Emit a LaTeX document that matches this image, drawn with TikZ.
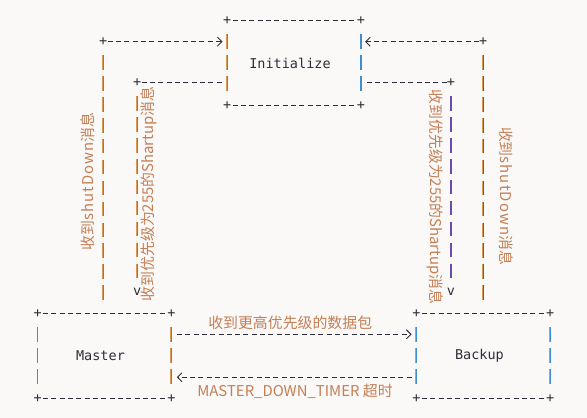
\documentclass[tikz,border=0pt]{standalone}
\usepackage{fontspec}
\usetikzlibrary{arrows.meta}
\newfontfamily\monofont{DejaVu Sans Mono}
\newfontfamily\cjkfont{Noto Sans CJK SC}
\definecolor{labelc}{HTML}{C47F55}
\definecolor{inkc}{HTML}{2E2E3A}
\definecolor{pipeo}{HTML}{D99A55}
\definecolor{pipeb}{HTML}{3C8FD2}
\definecolor{pipep}{HTML}{6A4CB0}
\definecolor{bgc}{HTML}{FAF9F8}
% a column of "|" below anchor #2, #3 rows long, in colour #1 with an orange fringe
\newcommand{\drawpipe}[3]{%
	\foreach \k in {1,...,#3} {
		\draw[pipeo, line width=0.5pt] ([xshift=-0.9pt, yshift=-13.7pt-(\k-1)*20.9pt]#2) -- ++(0,-14.5);
		\draw[#1, line width=1.3pt] ([xshift=0.1pt, yshift=-13.7pt-(\k-1)*20.9pt]#2) -- ++(0,-14.5);
	}}

\begin{document}
\begin{tikzpicture}[x=1pt, y=1pt,
	hdash/.style={inkc, line width=0.9pt, dash pattern=on 5pt off 3.33pt},
	plus/.style={inkc, inner sep=0pt, font=\monofont\fontsize{13.5}{14}\selectfont},
	tip/.style={-{Straight Barb[length=4.5pt, width=9pt]}},
	box/.style={minimum width=133.3pt, minimum height=84pt, inner sep=0pt,
		text=inkc, font=\monofont\fontsize{13.5}{14}\selectfont},
	lbl/.style={labelc, inner sep=0pt, font=\cjkfont\fontsize{14.9}{15}\selectfont}]

	\fill[bgc] (0,0) rectangle (587,418);
	\useasboundingbox (0,0) rectangle (587,418);

	% the three states
	\node[box] (init) at (294, 355) {Initialize\hspace*{8pt}};
	\node[box] (master) at (104.5, 62) {Master\hspace*{8pt}};
	\node[box] (backup) at (483.4, 62) {Backup\hspace*{8pt}};

	\foreach \b in {init, master, backup} {
		\node[plus] at (\b.north west) {+};
		\node[plus] at (\b.north east) {+};
		\node[plus] at (\b.south west) {+};
		\node[plus] at (\b.south east) {+};
		\draw[hdash] ([xshift=5.5pt]\b.north west) -- ([xshift=-5pt]\b.north east);
		\draw[hdash] ([xshift=5.5pt]\b.south west) -- ([xshift=-5pt]\b.south east);
		\drawpipe{pipeb}{\b.north west}{3}
		\drawpipe{pipeb}{\b.north east}{3}
	}

	% corners of the four side paths
	\node[plus] (pl1) at (103.3, 376.3) {+};
	\node[plus] (pl2) at (137.3, 335.3) {+};
	\node[plus] (pr1) at (483.3, 376.3) {+};
	\node[plus] (pr2) at (451, 335.3) {+};
	\node[plus] (vl) at (137.3, 126) {v};
	\node[plus] (vr) at (451, 126) {v};

	\draw[hdash, tip] (pl1.east) -- ([xshift=-4.6pt]init.west |- pl1);
	\draw[hdash] (pl2.east) -- ([xshift=-4.6pt]init.west |- pl2);
	\draw[hdash, tip] (pr1.west) -- ([xshift=4.3pt]init.east |- pr1);
	\draw[hdash] (pr2.west) -- ([xshift=5pt]init.east |- pr2);

	\drawpipe{pipeb}{pl1.center}{12}
	\drawpipe{pipeb}{pl2.center}{9}
	\drawpipe{pipep}{pr1.center}{12}
	\drawpipe{pipep}{pr2.center}{9}

	\node[lbl, rotate=90] at (87.5, 236.5) {收到{\addfontfeature{LetterSpace=7}shutDown}消息};
	\node[lbl, rotate=90] at (148.5, 224) {收到优先级为255的Shartup消息};
	\node[lbl, rotate=-90] at (435.5, 221) {收到优先级为255的Shartup消息};
	\node[lbl, rotate=-90] at (506.5, 222) {收到{\addfontfeature{LetterSpace=7}shutDown}消息};

	% master <-> backup
	\draw[hdash, tip] ([xshift=5.5pt, yshift=21.7pt]master.east) -- ([xshift=-5pt, yshift=21.7pt]backup.west);
	\draw[hdash, tip] ([xshift=-5pt, yshift=-21.3pt]backup.west) -- ([xshift=5.5pt, yshift=-21.3pt]master.east);
	\node[lbl] at (290.2, 94.7) {收到更高优先级的数据包};
	\node[lbl] at (295, 26.3) {MASTER\_DOWN\_TIMER 超时};
\end{tikzpicture}
\end{document}
